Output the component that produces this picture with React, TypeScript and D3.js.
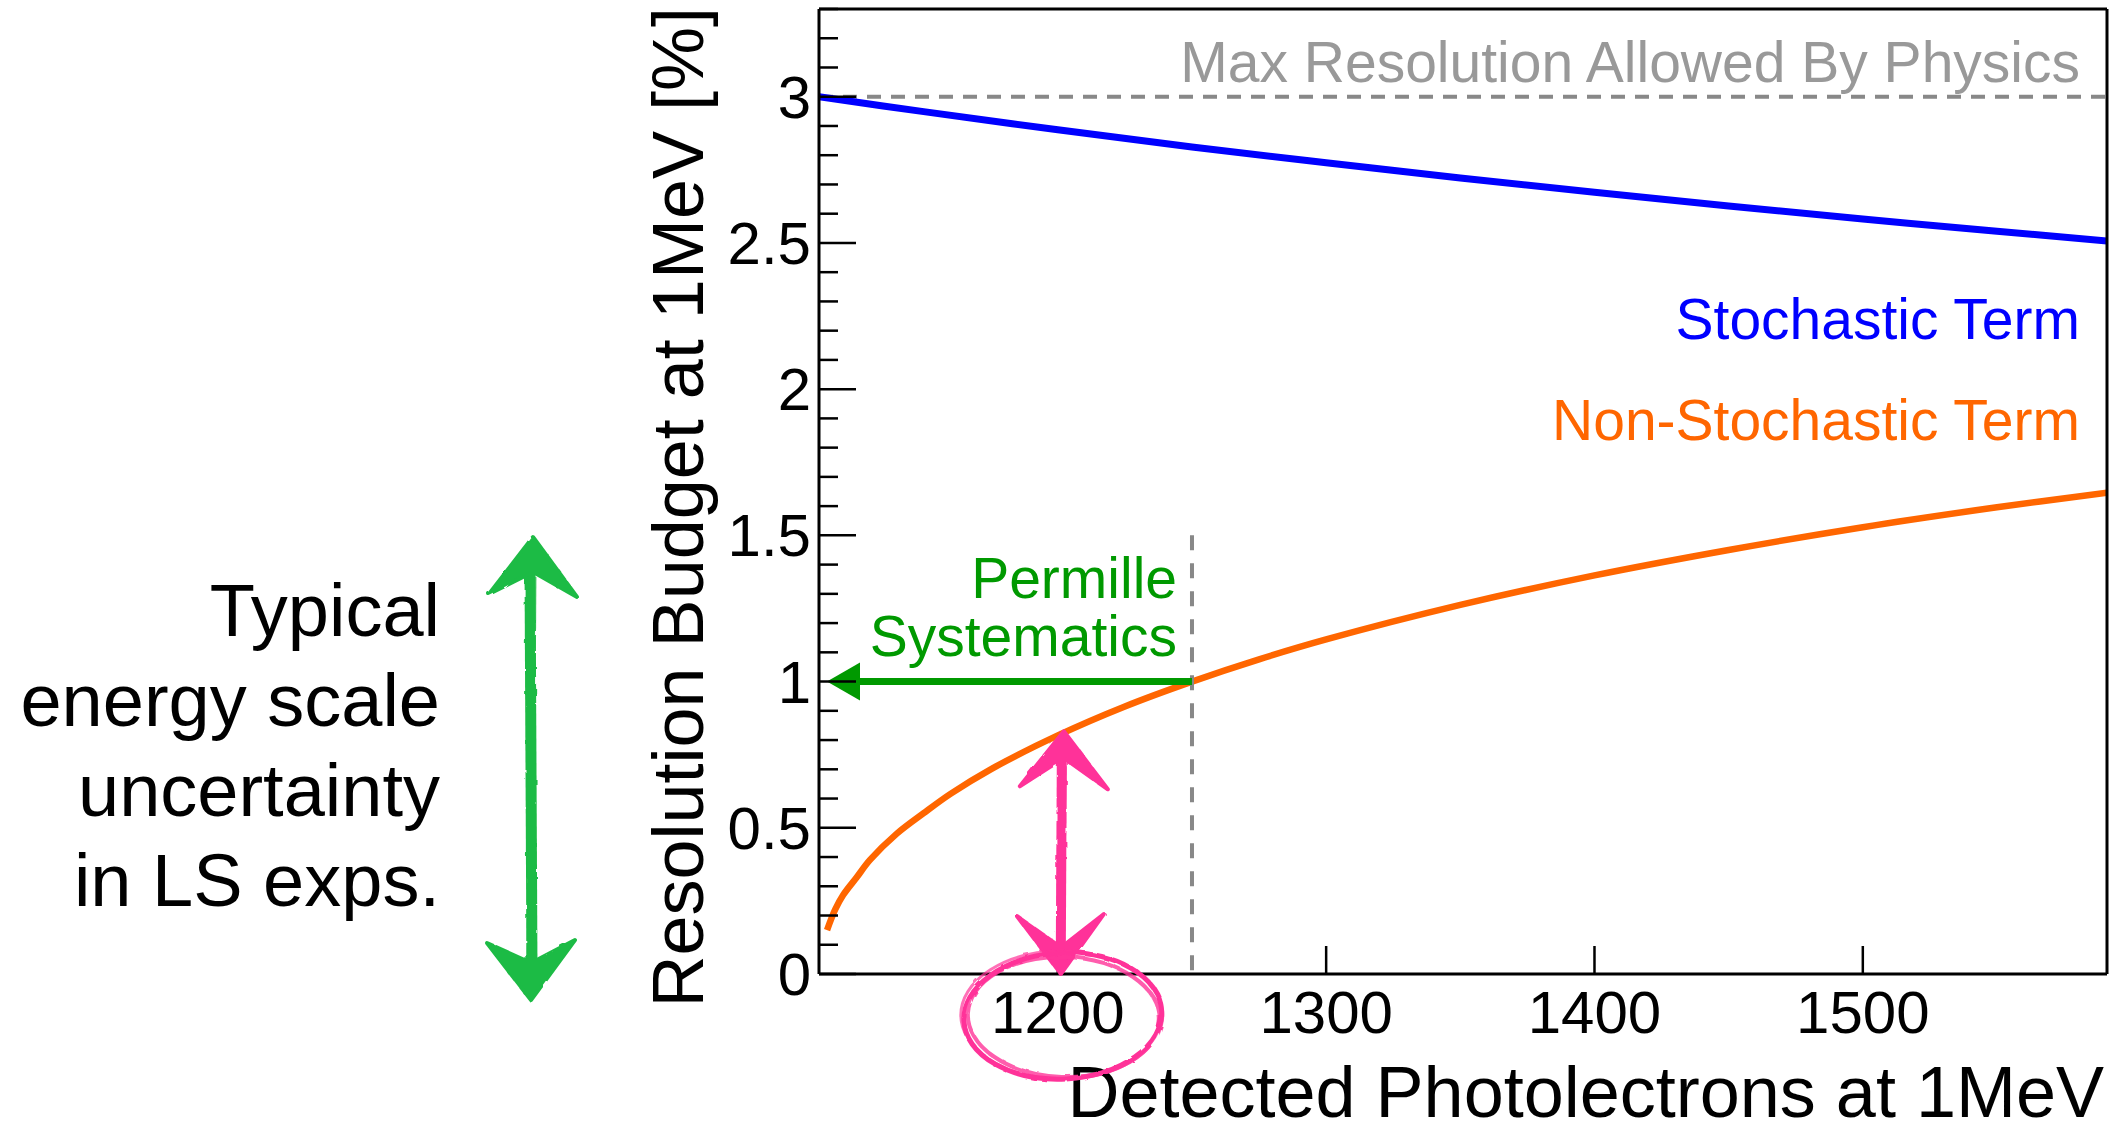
import React from "react";
import * as d3 from "d3";

// ---- data ----
const stochPE = [1111, 1150, 1200, 1250, 1300, 1350, 1400, 1450, 1500, 1550, 1591];
const stochasticTerm = [3.0, 2.949, 2.887, 2.828, 2.774, 2.722, 2.673, 2.626, 2.582, 2.54, 2.507];

const nonStochPE = [1114, 1117, 1120, 1125, 1130, 1140, 1150, 1160, 1175, 1200, 1225, 1250, 1275, 1300, 1350, 1400, 1450, 1500, 1550, 1591];
const nonStochasticTerm = [0.15, 0.22, 0.27, 0.33, 0.39, 0.48, 0.55, 0.616, 0.7, 0.816, 0.915, 1.0, 1.076, 1.144, 1.262, 1.363, 1.45, 1.528, 1.596, 1.646];

const xTicks = [1200, 1300, 1400, 1500];
const yMajorTicks = [0, 0.5, 1, 1.5, 2, 2.5, 3];
const yMinorTicks = d3.range(0, 34).map((i) => +(i * 0.1).toFixed(1));

const xDomain = [1111, 1591];
const yDomain = [0, 3.3];

const maxResolution = 3;
const permilleLevel = 1;
const permillePE = 1250;
const highlightPE = 1200;

const leftNoteLines = ["Typical", "energy scale", "uncertainty", "in LS exps."];

const FONT = "'Liberation Sans', Arial, Helvetica, sans-serif";

function arrowHead(tx: number, ty: number, dir: number, half: number, len: number, notch: number) {
  const s = dir;
  return `M${tx},${ty} L${tx + half},${ty + s * len} L${tx + 2},${ty + s * notch} L${tx - 2},${ty + s * notch} L${tx - half},${ty + s * (len - 3)} Z`;
}

export default function App() {
  const W = 2115;
  const H = 1131;
  const left = 819;
  const right = 2107;
  const top = 9;
  const bottom = 974;

  const xs = d3.scaleLinear().domain(xDomain).range([left, right]);
  const ys = d3.scaleLinear().domain(yDomain).range([bottom, top]);

  const stochLine = d3
    .line<number>()
    .x((_, i) => xs(stochPE[i]))
    .y((d) => ys(d))
    .curve(d3.curveCatmullRom.alpha(0.5))(stochasticTerm) as string;

  const nonStochLine = d3
    .line<number>()
    .x((_, i) => xs(nonStochPE[i]))
    .y((d) => ys(d))
    .curve(d3.curveCatmullRom.alpha(0.5))(nonStochasticTerm) as string;

  const pink = "#ff3399";
  const sketchGreen = "#1fbb45";
  const green = "#009900";

  const pX = xs(highlightPE) + 4;
  const pTop = ys(0.83);
  const pBot = ys(0);

  const gX = 531;
  const gTop = 537;
  const gBot = 1000;

  return (
    <svg
      width={W}
      height={H}
      style={{ position: "absolute", left: 0, top: 0, background: "#fff", display: "block" }}
      fontFamily={FONT}
    >
      <defs>
        <clipPath id="plot">
          <rect x={left} y={top} width={right - left} height={bottom - top} />
        </clipPath>
        <filter id="rough" x="-10%" y="-10%" width="120%" height="120%">
          <feTurbulence type="fractalNoise" baseFrequency="0.08" numOctaves="2" seed="3" />
          <feDisplacementMap in="SourceGraphic" scale="3" />
        </filter>
      </defs>
      <rect x={0} y={0} width={W} height={H} fill="#fff" />

      <line
        x1={left}
        x2={right}
        y1={ys(maxResolution)}
        y2={ys(maxResolution)}
        stroke="#888"
        strokeWidth={4}
        strokeDasharray="14 10"
      />
      <text x={2080} y={82} textAnchor="end" fontSize={57} fill="#999">
        Max Resolution Allowed By Physics
      </text>

      <g clipPath="url(#plot)">
        <path d={stochLine} fill="none" stroke="#0000ff" strokeWidth={7} />
        <path d={nonStochLine} fill="none" stroke="#ff6600" strokeWidth={6.5} />
      </g>

      <text x={2080} y={339} textAnchor="end" fontSize={57} fill="#0000ff">
        Stochastic Term
      </text>
      <text x={2080} y={440} textAnchor="end" fontSize={57} fill="#ff6600">
        Non-Stochastic Term
      </text>

      <line
        x1={xs(permillePE)}
        x2={xs(permillePE)}
        y1={ys(1.5)}
        y2={bottom}
        stroke="#888"
        strokeWidth={4}
        strokeDasharray="15 13"
      />
      <line
        x1={xs(permillePE)}
        x2={left + 38}
        y1={ys(permilleLevel)}
        y2={ys(permilleLevel)}
        stroke={green}
        strokeWidth={7}
      />
      <path
        d={`M${left + 8},${ys(permilleLevel)} L${left + 41},${ys(permilleLevel) - 19} L${left + 41},${ys(permilleLevel) + 19} Z`}
        fill={green}
      />
      <text x={1177} y={598} textAnchor="end" fontSize={57} fill={green}>
        Permille
      </text>
      <text x={1177} y={656} textAnchor="end" fontSize={57} fill={green}>
        Systematics
      </text>

      <line x1={left} x2={right} y1={top} y2={top} stroke="#000" strokeWidth={3} />
      <line x1={right} x2={right} y1={top} y2={bottom} stroke="#000" strokeWidth={3} />
      <line x1={left} x2={left} y1={top} y2={bottom} stroke="#000" strokeWidth={3} />
      <line x1={left} x2={right} y1={bottom} y2={bottom} stroke="#000" strokeWidth={3} />

      {yMinorTicks.map((t) => {
        const major = yMajorTicks.some((m) => Math.abs(m - t) < 1e-6);
        return (
          <line
            key={"yt" + t}
            x1={left}
            x2={left + (major ? 37 : 19)}
            y1={ys(t)}
            y2={ys(t)}
            stroke="#000"
            strokeWidth={2.5}
          />
        );
      })}
      {yMajorTicks.map((t) => (
        <text key={"yl" + t} x={811} y={ys(t) + 21} textAnchor="end" fontSize={60} fill="#000">
          {String(t)}
        </text>
      ))}

      {xTicks.map((t) => (
        <g key={"xt" + t}>
          <line x1={xs(t)} x2={xs(t)} y1={bottom} y2={bottom - 28} stroke="#000" strokeWidth={2.5} />
          <text x={xs(t)} y={1033} textAnchor="middle" fontSize={60} fill="#000">
            {String(t)}
          </text>
        </g>
      ))}

      <text x={2104} y={1117} textAnchor="end" fontSize={72} fill="#000">
        Detected Photolectrons at 1MeV
      </text>
      <text transform={`translate(703,7) rotate(-90)`} textAnchor="end" fontSize={72} fill="#000">
        Resolution Budget at 1MeV [%]
      </text>

      {leftNoteLines.map((l, i) => (
        <text key={l} x={440} y={636 + i * 90} textAnchor="end" fontSize={74} fill="#000">
          {l}
        </text>
      ))}

      <g filter="url(#rough)" fill={sketchGreen} stroke={sketchGreen} strokeLinejoin="round">
        <path d={`M${gX - 1},${gTop + 30} L${gX + 1},${gBot - 30}`} strokeWidth={11} fill="none" />
        <path d={`M${gX + 2},${gTop + 40} L${gX - 1},${gBot - 40}`} strokeWidth={7} fill="none" opacity={0.7} />
        <path d={arrowHead(gX + 2, gTop, 1, 44, 60, 36)} strokeWidth={4} />
        <path d={arrowHead(gX, gBot, -1, 44, 60, 38)} strokeWidth={4} />
      </g>

      <g filter="url(#rough)" stroke={pink} fill={pink} strokeLinejoin="round">
        <path d={`M${pX},${pTop + 25} L${pX - 1},${pBot - 25}`} strokeWidth={10} fill="none" />
        <path d={`M${pX + 2},${pTop + 35} L${pX},${pBot - 35}`} strokeWidth={6} fill="none" opacity={0.7} />
        <path d={arrowHead(pX + 2, pTop, 1, 44, 58, 28)} strokeWidth={4} />
        <path d={arrowHead(pX - 1, pBot, -1, 43, 60, 28)} strokeWidth={4} />
      </g>
      <g filter="url(#rough)" fill="none" stroke={pink}>
        <ellipse cx={xs(highlightPE) + 5} cy={1016} rx={99} ry={63} strokeWidth={5} transform={`rotate(-3 ${xs(highlightPE) + 5} 1016)`} />
        <ellipse cx={xs(highlightPE) + 6} cy={1017} rx={96} ry={60} strokeWidth={4} opacity={0.8} transform={`rotate(2 ${xs(highlightPE) + 6} 1017)`} />
        <ellipse cx={xs(highlightPE) + 4} cy={1015} rx={101} ry={64} strokeWidth={3} opacity={0.7} />
      </g>
    </svg>
  );
}
